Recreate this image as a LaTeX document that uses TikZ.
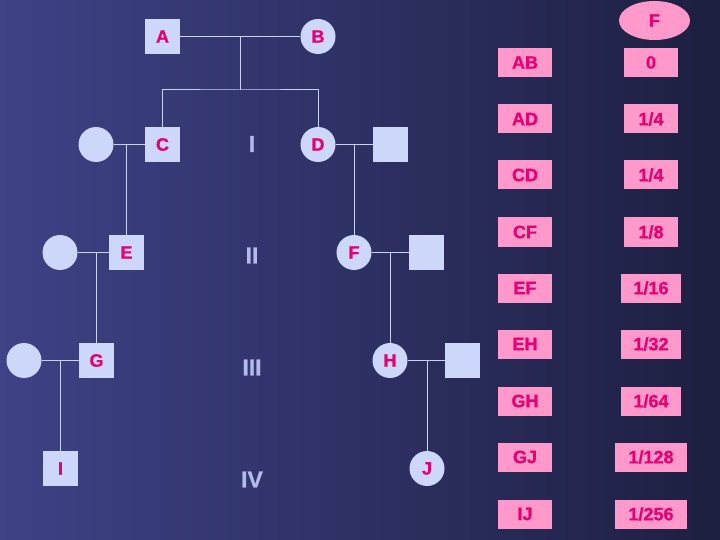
\documentclass[tikz,border=0pt]{standalone}
\usepackage{fontspec}
\setmainfont{Liberation Sans}[BoldFeatures={FakeBold=0.8}]
\usetikzlibrary{shapes.geometric}
\definecolor{bgA}{RGB}{62,66,134}
\definecolor{bgB}{RGB}{54,58,118}
\definecolor{bgC}{RGB}{29,31,64}
\definecolor{nodefill}{RGB}{205,215,250}
\definecolor{linecol}{RGB}{200,210,250}
\definecolor{gencol}{RGB}{180,186,236}
\definecolor{pinkfill}{RGB}{255,153,204}
\definecolor{pinktext}{RGB}{232,0,112}
\tikzset{
  lbl/.style={font=\bfseries\fontsize{18}{18}\selectfont, text=pinktext},
  sq/.style={lbl, rectangle, fill=nodefill, minimum size=35pt, inner sep=0pt},
  ci/.style={lbl, circle, fill=nodefill, minimum size=35pt, inner sep=0pt},
  link/.style={draw=linecol, line width=1pt},
  gen/.style={text=gencol, font=\bfseries\fontsize{23}{23}\selectfont, inner sep=0pt},
  tbox/.style={lbl, rectangle, fill=pinkfill, minimum height=29pt, minimum width=54pt, inner sep=0pt},
  ell/.style={lbl, ellipse, fill=pinkfill, minimum width=71pt, minimum height=39pt, inner sep=0pt}
}
\begin{document}
\begin{tikzpicture}[x=1pt,y=-1pt]
\shade[left color=bgA, middle color=bgB, right color=bgC] (0,0) rectangle (720,540);
\useasboundingbox (0,0) rectangle (720,540);

% generation I
\node[sq] (A) at (162.5,36.5) {A};
\node[ci] (B) at (318,36.5) {B};
% generation II
\node[ci] (c1) at (96,144.5) {};
\node[sq] (C) at (162.5,144.5) {C};
\node[ci] (D) at (318,144.5) {D};
\node[sq] (s2) at (390.5,144.5) {};
% generation III
\node[ci] (c2) at (60,252.5) {};
\node[sq] (E) at (126.5,252.5) {E};
\node[ci] (F) at (354,252.5) {F};
\node[sq] (s3) at (426.5,252.5) {};
% generation IV
\node[ci] (c3) at (24,360.5) {};
\node[sq] (G) at (96.5,360.5) {G};
\node[ci] (H) at (390,360.5) {H};
\node[sq] (s4) at (462.5,360.5) {};
% generation V
\node[sq] (I) at (60.5,468.5) {I};
\node[ci] (J) at (427,468.5) {J};

% generation labels
\node[gen] (g1) at (252,144) {I};
\node[gen] (g2) at (252,255.5) {II};
\node[gen] (g3) at (252,367.5) {III};
\node[gen] (g4) at (252,479.5) {IV};

% connectors
\coordinate (m1) at (240,36.5);
\coordinate (s1) at (240,90);
\draw[link] (A.east) -- (B.west);
\draw[link] (m1) -- (s1);
\draw[link] (C.north) |- (s1) -| (D.north);

\coordinate (m2) at (126.5,144.5);
\draw[link] (c1.east) -- (C.west);
\draw[link] (m2) -- (E.north);
\coordinate (m3) at (354,144.5);
\draw[link] (D.east) -- (s2.west);
\draw[link] (m3) -- (F.north);

\coordinate (m4) at (96.5,252.5);
\draw[link] (c2.east) -- (E.west);
\draw[link] (m4) -- (G.north);
\coordinate (m5) at (390,252.5);
\draw[link] (F.east) -- (s3.west);
\draw[link] (m5) -- (H.north);

\coordinate (m6) at (60.5,360.5);
\draw[link] (c3.east) -- (G.west);
\draw[link] (m6) -- (I.north);
\coordinate (m7) at (427,360.5);
\draw[link] (H.east) -- (s4.west);
\draw[link] (m7) -- (J.north);

% table
\node[ell] (hdr) at (654.5,20.5) {F};
\node[tbox] (p1) at (525,62.5) {AB};
\node[tbox] (p2) at (525,119) {AD};
\node[tbox] (p3) at (525,175) {CD};
\node[tbox] (p4) at (525,232) {CF};
\node[tbox] (p5) at (525,288) {EF};
\node[tbox] (p6) at (525,344) {EH};
\node[tbox] (p7) at (525,401) {GH};
\node[tbox] (p8) at (525,457) {GJ};
\node[tbox] (p9) at (525,514) {IJ};
\node[tbox] (v1) at (651,62.5) {0};
\node[tbox] (v2) at (651,119) {1/4};
\node[tbox] (v3) at (651,175) {1/4};
\node[tbox] (v4) at (651,232) {1/8};
\node[tbox, minimum width=60pt] (v5) at (651,288) {1/16};
\node[tbox, minimum width=60pt] (v6) at (651,344) {1/32};
\node[tbox, minimum width=60pt] (v7) at (651,401) {1/64};
\node[tbox, minimum width=72pt] (v8) at (651,457) {1/128};
\node[tbox, minimum width=72pt] (v9) at (651,514) {1/256};
\end{tikzpicture}
\end{document}
